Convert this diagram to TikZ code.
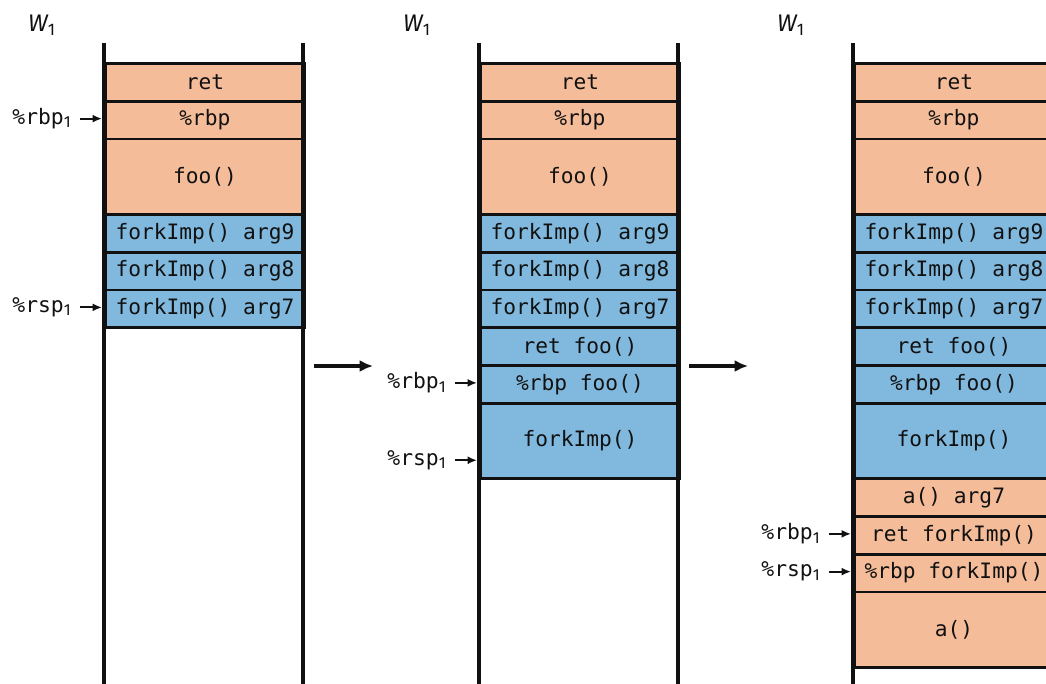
\documentclass[tikz,border=0pt]{standalone}
\usepackage{fontspec}
\setmainfont{Fira Sans}
\setmonofont{DejaVu Sans Mono}
\usetikzlibrary{arrows.meta}
\definecolor{orng}{HTML}{F5BC9A}
\definecolor{blu}{HTML}{80B9DD}
\definecolor{ink}{HTML}{111111}
\newcommand\stackcell[6]{%
  \node[cell,fill=#5,minimum height=#4*28.3125pt,anchor=north west] (#1) at (#2,{62+#3*37.75}) {#6};}
\newcommand\mysubone{\raisebox{-0.3ex}{\fontsize{12}{14}\selectfont 1}}
\newcommand\regptr[4]{% name, wall x, row, text
  \coordinate (#1tip) at (#2-2,{62+#3*37.75});
  \node[reglbl,anchor=east] (#1) at (#2-33,{62+#3*37.75}) {\texttt{#4}\mysubone};
  \draw[ptr] ([xshift=7pt]#1.east) -- (#1tip);}
\begin{document}
\begin{tikzpicture}[x=0.75pt,y=-0.75pt,
  cell/.style={draw=ink,line width=2.2pt,inner sep=0pt,minimum width=149.25pt,
    font=\fontsize{15.9}{18}\ttfamily,text=ink},
  wall/.style={draw=ink,line width=2.7pt},
  reglbl/.style={inner sep=0pt,font=\fontsize{16}{18}\selectfont,text=ink},
  ptr/.style={draw=ink,line width=1.5pt,-{Latex[length=7pt,width=6pt]}},
  bigarrow/.style={draw=ink,line width=2.4pt,-{Latex[length=10pt,width=9pt]}},
  wlbl/.style={inner sep=0pt,font=\fontsize{18}{21}\selectfont\itshape,text=ink}]
\useasboundingbox (0,0) rectangle (1046,683);
\clip (0,0) rectangle (1046,683);
% ---------- stack 1 ----------
\stackcell{a1}{104}{0}{1}{orng}{ret}
\stackcell{a2}{104}{1}{1}{orng}{\%rbp}
\stackcell{a3}{104}{2}{2}{orng}{foo()}
\stackcell{a4}{104}{4}{1}{blu}{forkImp() arg9}
\stackcell{a5}{104}{5}{1}{blu}{forkImp() arg8}
\stackcell{a6}{104}{6}{1}{blu}{forkImp() arg7}
\draw[wall] (104,43) -- (104,684);
\draw[wall] (303,43) -- (303,684);
\node[wlbl] (w1) at (42,25) {W\textsubscript{\upshape 1}};
\regptr{rbpA}{104}{1.5}{\%rbp}
\regptr{rspA}{104}{6.5}{\%rsp}
% ---------- stack 2 ----------
\stackcell{b1}{479}{0}{1}{orng}{ret}
\stackcell{b2}{479}{1}{1}{orng}{\%rbp}
\stackcell{b3}{479}{2}{2}{orng}{foo()}
\stackcell{b4}{479}{4}{1}{blu}{forkImp() arg9}
\stackcell{b5}{479}{5}{1}{blu}{forkImp() arg8}
\stackcell{b6}{479}{6}{1}{blu}{forkImp() arg7}
\stackcell{b7}{479}{7}{1}{blu}{ret foo()}
\stackcell{b8}{479}{8}{1}{blu}{\%rbp foo()}
\stackcell{b9}{479}{9}{2}{blu}{forkImp()}
\draw[wall] (479,43) -- (479,684);
\draw[wall] (678,43) -- (678,684);
\node[wlbl] (w2) at (417,25) {W\textsubscript{\upshape 1}};
\regptr{rbpB}{479}{8.5}{\%rbp}
\regptr{rspB}{479}{10.55}{\%rsp}
% ---------- stack 3 ----------
\stackcell{c1}{853}{0}{1}{orng}{ret}
\stackcell{c2}{853}{1}{1}{orng}{\%rbp}
\stackcell{c3}{853}{2}{2}{orng}{foo()}
\stackcell{c4}{853}{4}{1}{blu}{forkImp() arg9}
\stackcell{c5}{853}{5}{1}{blu}{forkImp() arg8}
\stackcell{c6}{853}{6}{1}{blu}{forkImp() arg7}
\stackcell{c7}{853}{7}{1}{blu}{ret foo()}
\stackcell{c8}{853}{8}{1}{blu}{\%rbp foo()}
\stackcell{c9}{853}{9}{2}{blu}{forkImp()}
\stackcell{c10}{853}{11}{1}{orng}{a() arg7}
\stackcell{c11}{853}{12}{1}{orng}{ret forkImp()}
\stackcell{c12}{853}{13}{1}{orng}{\%rbp forkImp()}
\stackcell{c13}{853}{14}{2}{orng}{a()}
\draw[wall] (853,43) -- (853,684);
\draw[wall] (1052,43) -- (1052,684);
\node[wlbl] (w3) at (791,25) {W\textsubscript{\upshape 1}};
\regptr{rbpC}{853}{12.5}{\%rbp}
\regptr{rspC}{853}{13.5}{\%rsp}
% ---------- transition arrows ----------
\coordinate (t1s) at (314,366);
\coordinate (t1e) at (373,366);
\coordinate (t2s) at (689,366);
\coordinate (t2e) at (748,366);
\draw[bigarrow] (t1s) -- (t1e);
\draw[bigarrow] (t2s) -- (t2e);
\end{tikzpicture}
\end{document}
